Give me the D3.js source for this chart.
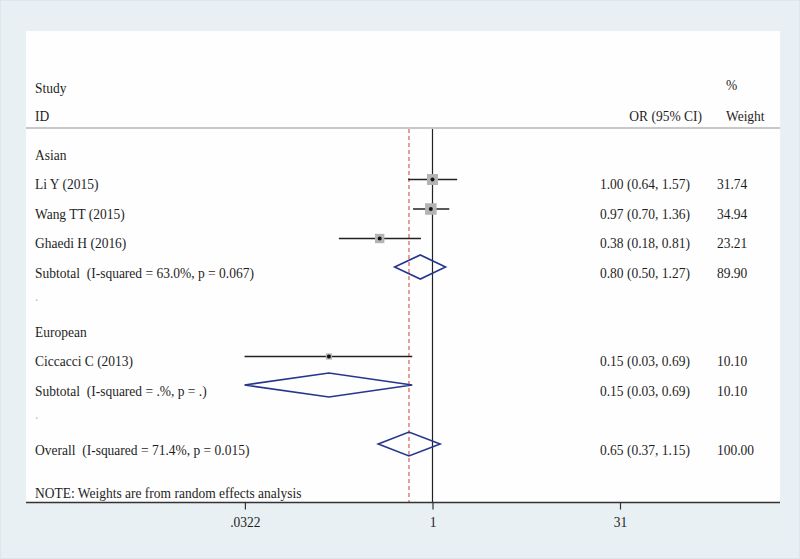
<!DOCTYPE html>
<html>
<head>
<meta charset="utf-8">
<script src="https://cdn.jsdelivr.net/npm/d3@7"></script>
<style>
  html, body { margin: 0; padding: 0; background: #e9f0f3; }
  svg { display: block; }
  text { font-family: "Liberation Serif", "Times New Roman", serif; font-size: 15px; fill: #1e1e1e; white-space: pre; }
</style>
</head>
<body>
<svg id="plot" width="800" height="559"></svg>
<script>
/*    ========    DATA    =========    */

// one entry per row of the plot, top to bottom
var rowLabels = ["Asian", "Li Y (2015)", "Wang TT (2015)", "Ghaedi H (2016)",
    "Subtotal  (I-squared = 63.0%, p = 0.067)", ".",
    "European", "Ciccacci C (2013)", "Subtotal  (I-squared = .%, p = .)", ".",
    "Overall  (I-squared = 71.4%, p = 0.015)"];
var rowKind = ["head", "study", "study", "study", "sub", "blank",
    "head", "study", "sub", "blank", "sub"];
var rowOR  = [null, 1.00, 0.97, 0.38, 0.80, null, null, 0.15, 0.15, null, 0.65];
var rowLo  = [null, 0.64, 0.70, 0.18, 0.50, null, null, 0.032, 0.032, null, 0.37];
var rowHi  = [null, 1.57, 1.36, 0.81, 1.27, null, null, 0.69, 0.69, null, 1.15];
var rowCI  = ["", "1.00 (0.64, 1.57)", "0.97 (0.70, 1.36)", "0.38 (0.18, 0.81)",
    "0.80 (0.50, 1.27)", "", "", "0.15 (0.03, 0.69)", "0.15 (0.03, 0.69)", "",
    "0.65 (0.37, 1.15)"];
var rowWeight = [null, 31.74, 34.94, 23.21, 89.90, null, null, 10.10, 10.10, null, 100.00];

var overallOR = 0.65;
var xTicks = [0.0322, 1, 31];
var xTickLabels = [".0322", "1", "31"];
var note = "NOTE: Weights are from random effects analysis";

/*    ========    SETTINGS    =========    */

var svg = d3.select("#plot");
var width = 800, height = 559;

var panel = { left: 26, right: 780, top: 31, bottom: 502.5 };
var headerLine = 128;
var rowTop = 150, rowStep = 29.5;

var xscale = d3.scaleLog().domain([1 / 31, 31]).range([245, 620]);
var boxScale = d3.scaleSqrt().domain([0, 35]).range([0, 11.5]);

function rowY(i) { return rowTop + rowStep * i; }

/*    ========    DRAW    =========    */

// outer frame + white plot region
svg.append("rect")
    .attr("x", 0.5).attr("y", 0.5)
    .attr("width", width - 1).attr("height", height - 1)
    .attr("fill", "#e9f0f3").attr("stroke", "#dde6ea");

svg.append("rect")
    .attr("x", panel.left).attr("y", panel.top)
    .attr("width", panel.right - panel.left)
    .attr("height", panel.bottom - panel.top)
    .attr("fill", "#fefefe");

// column headers
svg.append("text").attr("x", 35).attr("y", 93).text("Study");
svg.append("text").attr("x", 35).attr("y", 121).text("ID");
svg.append("text").attr("x", 702).attr("y", 121).attr("text-anchor", "end").text("OR (95% CI)");
svg.append("text").attr("x", 726).attr("y", 90).text("%");
svg.append("text").attr("x", 726).attr("y", 121).text("Weight");

svg.append("line")
    .attr("x1", panel.left).attr("x2", panel.right)
    .attr("y1", headerLine).attr("y2", headerLine)
    .attr("stroke", "#c8c8c8").attr("stroke-width", 2);

// reference lines
svg.append("line")
    .attr("x1", xscale(1)).attr("x2", xscale(1))
    .attr("y1", headerLine + 1).attr("y2", panel.bottom)
    .attr("stroke", "#222").attr("stroke-width", 1.2);

svg.append("line")
    .attr("x1", xscale(overallOR)).attr("x2", xscale(overallOR))
    .attr("y1", headerLine + 1).attr("y2", panel.bottom)
    .attr("stroke", "#d0402e").attr("stroke-width", 1)
    .attr("stroke-dasharray", "4,3");

var rows = d3.range(rowLabels.length);

// labels
svg.selectAll("text.label")
    .data(rows).enter()
    .append("text")
    .attr("class", "label")
    .attr("x", 35)
    .attr("y", function(i) { return rowKind[i] === "blank" ? rowY(i) + 3 : rowY(i) + 9.5; })
    .style("fill", function(i) { return rowKind[i] === "blank" ? "#bbb" : null; })
    .text(function(i) { return rowLabels[i]; });

svg.selectAll("text.ci")
    .data(rows.filter(function(i) { return rowCI[i]; })).enter()
    .append("text")
    .attr("class", "ci")
    .attr("x", 600)
    .attr("y", function(i) { return rowY(i) + 9.5; })
    .text(function(i) { return rowCI[i]; });

svg.selectAll("text.wt")
    .data(rows.filter(function(i) { return rowWeight[i] !== null; })).enter()
    .append("text")
    .attr("class", "wt")
    .attr("x", 717)
    .attr("y", function(i) { return rowY(i) + 9.5; })
    .text(function(i) { return rowWeight[i].toFixed(2); });

// studies: CI lines, weight boxes, point estimates
var studyRows = rows.filter(function(i) { return rowKind[i] === "study"; });

svg.selectAll("line.ci")
    .data(studyRows).enter()
    .append("line")
    .attr("class", "ci")
    .attr("x1", function(i) { return xscale(rowLo[i]); })
    .attr("x2", function(i) { return xscale(rowHi[i]); })
    .attr("y1", function(i) { return rowY(i); })
    .attr("y2", function(i) { return rowY(i); })
    .attr("stroke", "#222").attr("stroke-width", 1.6);

svg.selectAll("rect.box")
    .data(studyRows).enter()
    .append("rect")
    .attr("class", "box")
    .attr("x", function(i) { return xscale(rowOR[i]) - boxScale(rowWeight[i]) / 2; })
    .attr("y", function(i) { return rowY(i) - boxScale(rowWeight[i]) / 2; })
    .attr("width", function(i) { return boxScale(rowWeight[i]); })
    .attr("height", function(i) { return boxScale(rowWeight[i]); })
    .attr("fill", "#b3b3b3");

svg.selectAll("circle.pt")
    .data(studyRows).enter()
    .append("circle")
    .attr("class", "pt")
    .attr("cx", function(i) { return xscale(rowOR[i]); })
    .attr("cy", function(i) { return rowY(i); })
    .attr("r", 2)
    .attr("fill", "#111");

// pooled diamonds
var subRows = rows.filter(function(i) { return rowKind[i] === "sub"; });

svg.selectAll("path.diamond")
    .data(subRows).enter()
    .append("path")
    .attr("class", "diamond")
    .attr("d", function(i) {
        var y = rowY(i) - 1, h = 12;
        return "M" + xscale(rowLo[i]) + "," + y +
            "L" + xscale(rowOR[i]) + "," + (y - h) +
            "L" + xscale(rowHi[i]) + "," + y +
            "L" + xscale(rowOR[i]) + "," + (y + h) + "Z";
    })
    .attr("fill", "none")
    .attr("stroke", "#26368c")
    .attr("stroke-width", 1.6);

svg.append("text").attr("x", 35).attr("y", 498).text(note);

// x axis
svg.append("line")
    .attr("x1", panel.left).attr("x2", panel.right)
    .attr("y1", panel.bottom).attr("y2", panel.bottom)
    .attr("stroke", "#333").attr("stroke-width", 1.5);

var xAxis = d3.axisBottom(xscale)
    .tickValues(xTicks)
    .tickSize(7)
    .tickFormat(function(d, i) { return xTickLabels[i]; });

var gx = svg.append("g")
    .attr("class", "axis")
    .attr("transform", "translate(0," + panel.bottom + ")")
    .call(xAxis);

gx.select(".domain").remove();
gx.selectAll(".tick line").attr("stroke", "#333").attr("stroke-width", 1.2);
gx.selectAll(".tick text")
    .attr("dy", null).attr("y", 24)
    .style("font-family", '"Liberation Serif", serif')
    .style("font-size", "15px")
    .attr("fill", "#1e1e1e");

// Stata draws a narrow, tall serif: squeeze every text horizontally
svg.selectAll("text").each(function() {
    var t = d3.select(this);
    var x = +t.attr("x") || 0, y = +t.attr("y") || 0;
    t.attr("x", 0).attr("y", 0)
        .attr("transform", "translate(" + x + "," + y + ") scale(0.9,1)");
});
</script>
</body>
</html>
